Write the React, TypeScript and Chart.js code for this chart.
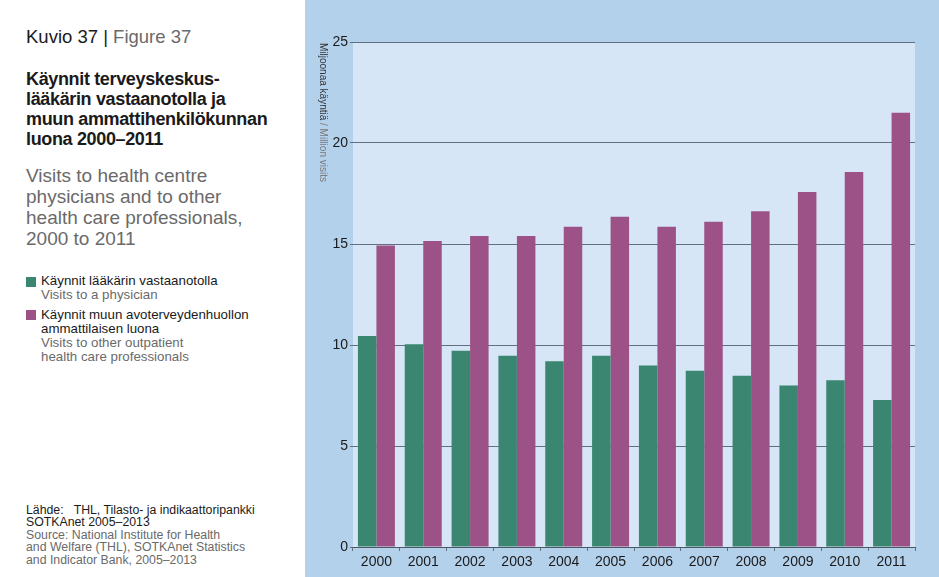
import React, { useEffect, useRef } from 'react';
import { Chart, registerables } from 'chart.js';

Chart.register(...registerables);

// ---- Data ----
const years = ['2000', '2001', '2002', '2003', '2004', '2005', '2006', '2007', '2008', '2009', '2010', '2011'];
const physicianVisits = [10.45, 10.04, 9.72, 9.47, 9.2, 9.47, 8.98, 8.72, 8.48, 8.0, 8.25, 7.28];
const otherVisits = [14.92, 15.15, 15.4, 15.4, 15.86, 16.35, 15.86, 16.1, 16.62, 17.58, 18.57, 21.5];
const yMin = 0;
const yMax = 25;
const yStep = 5;

const seriesFi = ['Käynnit lääkärin vastaanotolla', 'Käynnit muun avoterveydenhuollon ammattilaisen luona'];
const seriesEn = ['Visits to a physician', 'Visits to other outpatient health care professionals'];
const yTitleFi = 'Miljoonaa käyntiä';
const yTitleEn = ' / Million visits';

const figureFi = 'Kuvio 37 |';
const figureEn = ' Figure 37';
const titleFiLines = ['Käynnit terveyskeskus-', 'lääkärin vastaanotolla ja', 'muun ammattihenkilökunnan', 'luona 2000–2011'];
const titleEnLines = ['Visits to health centre', 'physicians and to other', 'health care professionals,', '2000 to 2011'];
const legendFiLines = [['Käynnit lääkärin vastaanotolla'], ['Käynnit muun avoterveydenhuollon', 'ammattilaisen luona']];
const legendEnLines = [['Visits to a physician'], ['Visits to other outpatient', 'health care professionals']];
const sourceFiLines = ['Lähde:\u00a0\u00a0 THL, Tilasto- ja indikaattoripankki', 'SOTKAnet 2005–2013'];
const sourceEnLines = ['Source: National Institute for Health', 'and Welfare (THL), SOTKAnet Statistics', 'and Indicator Bank, 2005–2013'];

// ---- Styles ----
const FONT = '"Liberation Sans", Arial, Helvetica, sans-serif';
const GREEN = '#3a8670';
const PURPLE = '#9c5287';
const PANEL = '#b4d1ec';
const PLOT_BG = '#d6e6f6';
const GRID = '#607080';
const DARK = '#1a1a1a';
const GRAY = '#6a6a6a';
const COLORS = [GREEN, PURPLE];

const plotBgPlugin = {
  id: 'plotBg',
  beforeDraw(chart: any) {
    const { ctx, chartArea } = chart;
    ctx.save();
    ctx.fillStyle = PLOT_BG;
    ctx.fillRect(chartArea.left, chartArea.top, chartArea.right - chartArea.left, chartArea.bottom - chartArea.top);
    ctx.restore();
  },
};

const yTitlePlugin = {
  id: 'yTitleRotated',
  afterDraw(chart: any) {
    const { ctx, chartArea } = chart;
    ctx.save();
    ctx.translate(17.5, chartArea.top + 1);
    ctx.rotate(Math.PI / 2);
    ctx.font = `10px ${FONT}`;
    ctx.textAlign = 'left';
    ctx.textBaseline = 'middle';
    ctx.fillStyle = '#333333';
    ctx.fillText(yTitleFi, 0, 0);
    const w = ctx.measureText(yTitleFi).width;
    ctx.fillStyle = '#7a7a7a';
    ctx.fillText(yTitleEn, w, 0);
    ctx.restore();
  },
};

function ChartPanel() {
  const ref = useRef<HTMLCanvasElement | null>(null);
  useEffect(() => {
    if (!ref.current) return;
    const chart = new Chart(ref.current, {
      type: 'bar',
      data: {
        labels: years,
        datasets: [
          {
            label: seriesFi[0],
            data: physicianVisits,
            backgroundColor: COLORS[0],
            borderWidth: 0,
            categoryPercentage: 0.79,
            barPercentage: 1,
          },
          {
            label: seriesFi[1],
            data: otherVisits,
            backgroundColor: COLORS[1],
            borderWidth: 0,
            categoryPercentage: 0.79,
            barPercentage: 1,
          },
        ],
      },
      options: {
        animation: false,
        responsive: false,
        maintainAspectRatio: false,
        layout: { padding: { top: 42, right: 24, bottom: 0, left: 0 } },
        plugins: { legend: { display: false }, tooltip: { enabled: false } },
        scales: {
          x: {
            grid: { display: true, drawOnChartArea: false, drawTicks: true, tickLength: 4, color: GRID, offset: true },
            border: { display: true, color: '#4a5866', width: 1 },
            ticks: { color: DARK, font: { family: FONT, size: 14 }, padding: 3, maxRotation: 0, autoSkip: false },
            afterFit: (s: any) => {
              s.height = 30;
              s.paddingLeft = 0;
              s.paddingRight = 0;
            },
          },
          y: {
            min: yMin,
            max: yMax,
            ticks: { stepSize: yStep, color: DARK, font: { family: FONT, size: 14 }, padding: 2 },
            grid: { color: GRID, tickLength: 3, lineWidth: 1 },
            border: { display: false },
            afterFit: (s: any) => {
              s.width = 48;
              s.paddingTop = 0;
              s.paddingBottom = 0;
            },
          },
        },
      },
      plugins: [plotBgPlugin, yTitlePlugin],
    } as any);
    return () => chart.destroy();
  }, []);
  return <canvas ref={ref} width={634} height={577} style={{ display: 'block', width: 634, height: 577 }} />;
}

const abs = (top: number, extra: React.CSSProperties = {}): React.CSSProperties => ({
  position: 'absolute',
  left: 26,
  top,
  margin: 0,
  whiteSpace: 'nowrap',
  fontFamily: FONT,
  ...extra,
});

export default function App() {
  return (
    <div style={{ position: 'fixed', left: 0, top: 0, width: 939, height: 577, background: '#ffffff', overflow: 'hidden' }}>
      <div style={abs(26, { fontSize: 18.5, lineHeight: '22px', color: DARK })}>
        {figureFi}
        <span style={{ color: GRAY }}>{figureEn}</span>
      </div>
      <div style={abs(68.5, { fontSize: 18, lineHeight: '20.3px', color: DARK, fontWeight: 700, letterSpacing: -0.35 })}>
        {titleFiLines.map((l, i) => (
          <div key={i}>{l}</div>
        ))}
      </div>
      <div style={abs(165, { fontSize: 19, lineHeight: '21px', color: GRAY })}>
        {titleEnLines.map((l, i) => (
          <div key={i}>{l}</div>
        ))}
      </div>
      {[274.4, 307.7].map((top, k) => (
        <div key={k} style={{ position: 'absolute', left: 26, top, fontFamily: FONT, whiteSpace: 'nowrap' }}>
          <div style={{ position: 'absolute', left: 0, top: 2.3, width: 10, height: 10, background: COLORS[k] }} />
          <div style={{ position: 'absolute', left: 15, top: 0, fontSize: 13.3, lineHeight: '14px' }}>
            {legendFiLines[k].map((l, i) => (
              <div key={'f' + i} style={{ color: DARK }}>{l}</div>
            ))}
            {legendEnLines[k].map((l, i) => (
              <div key={'e' + i} style={{ color: GRAY }}>{l}</div>
            ))}
          </div>
        </div>
      ))}
      <div style={abs(503.5, { fontSize: 12.3, lineHeight: '12.5px', color: DARK })}>
        {sourceFiLines.map((l, i) => (
          <div key={i}>{l}</div>
        ))}
      </div>
      <div style={abs(528.8, { fontSize: 12.3, lineHeight: '12.5px', color: GRAY })}>
        {sourceEnLines.map((l, i) => (
          <div key={i}>{l}</div>
        ))}
      </div>
      <div style={{ position: 'absolute', left: 305, top: 0, width: 634, height: 577, background: PANEL }}>
        <ChartPanel />
      </div>
    </div>
  );
}
